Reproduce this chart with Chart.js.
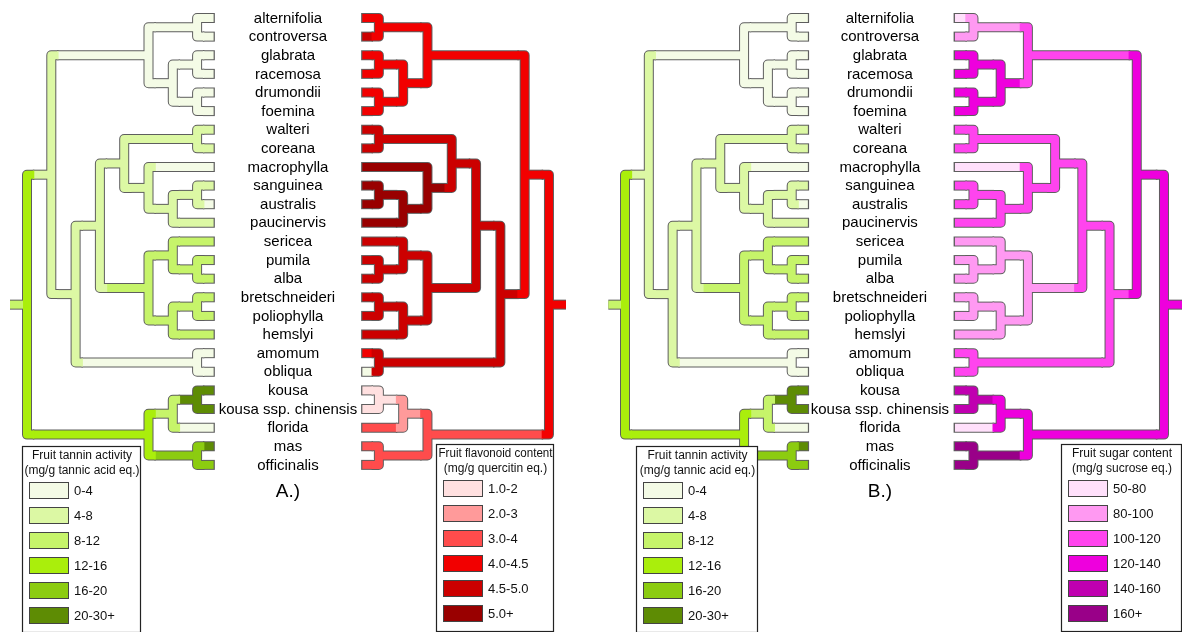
<!DOCTYPE html>
<html>
<head>
<meta charset="utf-8">
<script src="https://cdn.jsdelivr.net/npm/chart.js@4.4.0/dist/chart.umd.min.js"></script>
<style>
  body { margin: 0; background: #fff; }
  #wrap { position: relative; width: 1182px; height: 632px; }
  canvas { position: absolute; top: 0; }
</style>
</head>
<body>
<div id="wrap">
  <canvas id="panelA" width="591" height="632" style="left:0"></canvas>
  <canvas id="panelB" width="591" height="632" style="left:591px"></canvas>
</div>
<script>
// Taxa, top to bottom
const taxa = ['alternifolia', 'controversa', 'glabrata', 'racemosa', 'drumondii', 'foemina',
  'walteri', 'coreana', 'macrophylla', 'sanguinea', 'australis', 'paucinervis',
  'sericea', 'pumila', 'alba', 'bretschneideri', 'poliophylla', 'hemslyi',
  'amomum', 'obliqua', 'kousa', 'kousa ssp. chinensis', 'florida', 'mas', 'officinalis'];

// Clades: [name, depth level, child, child]
const clades = [
  ['c1', 7, 'alternifolia', 'controversa'],
  ['c2', 7, 'glabrata', 'racemosa'],
  ['c3', 7, 'drumondii', 'foemina'],
  ['g23', 6, 'c2', 'c3'],
  ['n1', 5, 'c1', 'g23'],
  ['c4', 7, 'walteri', 'coreana'],
  ['c5', 7, 'sanguinea', 'australis'],
  ['f5', 6, 'c5', 'paucinervis'],
  ['d2', 5, 'macrophylla', 'f5'],
  ['d', 4, 'c4', 'd2'],
  ['c6', 7, 'pumila', 'alba'],
  ['e1', 6, 'sericea', 'c6'],
  ['c7', 7, 'bretschneideri', 'poliophylla'],
  ['e2', 6, 'c7', 'hemslyi'],
  ['e', 5, 'e1', 'e2'],
  ['c', 3, 'd', 'e'],
  ['c8', 7, 'amomum', 'obliqua'],
  ['b', 2, 'c', 'c8'],
  ['a', 1, 'n1', 'b'],
  ['c9', 7, 'kousa', 'kousa ssp. chinensis'],
  ['k1', 6, 'c9', 'florida'],
  ['c10', 7, 'mas', 'officinalis'],
  ['k', 5, 'k1', 'c10'],
  ['root', 0, 'a', 'k']
];

// Legend classes
const tanninLabels = ['0-4', '4-8', '8-12', '12-16', '16-20', '20-30+'];
const tanninColors = ['#f4fbe6', '#dcf8a4', '#c6f46a', '#aaee0c', '#8ccc10', '#5e8c04'];
const flavLabels = ['1.0-2', '2.0-3', '3.0-4', '4.0-4.5', '4.5-5.0', '5.0+'];
const flavColors = ['#ffe0e0', '#ff9a9a', '#ff4c4c', '#f20000', '#cc0000', '#990000'];
const sugarLabels = ['50-80', '80-100', '100-120', '120-140', '140-160', '160+'];
const sugarColors = ['#ffe0fb', '#ff99f2', '#ff44ee', '#ee00dd', '#c000b0', '#990088'];
const noDataColor = '#f4fbe6';

// Character states (class index, -1 = no data); leaves follow taxa, nodes follow clades
const tanninLeaf = [0, 0, 0, 0, 0, 0, 1, 1, 0, 1, 0, 1, 2, 2, 2, 2, 2, 2, 0, 0, 5, 5, 0, 5, 4];
const tanninNode = [0, 0, 0, 0, 0, 1, 1, 1, 1, 1, 2, 2, 2, 2, 2, 1, 0, 1, 1, 5, 2, 4, 3, 3];
const tanninStub = 2;

const flavLeaf = [3, 4, 3, 3, 3, 3, 4, 4, 5, 5, 5, 5, 4, 4, 4, 4, 4, 4, 3, -1, 0, 0, 2, 2, 2];
const flavNode = [3, 3, 3, 3, 3, 4, 5, 5, 5, 4, 4, 4, 4, 4, 4, 4, 4, 4, 3, 0, 1, 2, 2, 3];
const flavStub = 3;

const sugarLeaf = [0, 1, 3, 3, 3, 3, 2, 2, 0, 2, 2, 2, 1, 1, 1, 1, 1, 1, 2, 2, 4, 4, 0, 5, 5];
const sugarNode = [1, 3, 3, 3, 2, 2, 2, 2, 2, 2, 1, 1, 1, 1, 1, 2, 2, 2, 3, 4, 3, 5, 3, 3];
const sugarStub = 3;

// geometry (levels / rows)
const LEAF = 7.68, CORNER = 0.3, STUB = 0.7;

// tree: X(level) = base + dir * k * level
function buildTree(leafState, nodeState, stubState, colors, base, dir, k) {
  const pos = {};
  taxa.forEach((t, i) => pos[t] = { lv: LEAF, y: i, s: leafState[i], leaf: true });
  clades.forEach(([name, lv, a, b], j) => {
    pos[name] = { lv: lv, y: (pos[a].y + pos[b].y) / 2, s: nodeState[j] };
  });
  const X = lv => base + dir * k * lv;
  const col = s => s < 0 ? noDataColor : colors[s];
  const segs = [];
  clades.forEach(([name, lv, a, b]) => {
    const A = pos[a], B = pos[b];
    segs.push({ pts: [[X(lv + CORNER), A.y], [X(lv), A.y], [X(lv), B.y], [X(lv + CORNER), B.y]], c: col(pos[name].s) });
    [A, B].forEach(ch => segs.push({
      pts: [[X(lv + CORNER - 0.06), ch.y], [X(ch.lv), ch.y]],
      c: col(ch.s), tip: ch.leaf ? [X(ch.lv + 0.05), ch.y] : null
    }));
  });
  const r = pos.root;
  segs.push({ pts: [[X(-STUB), r.y], [X(0), r.y]], c: col(stubState) });

  const sets = [];
  segs.forEach(sg => {
    const data = sg.pts.map(p => ({ x: p[0], y: p[1] }));
    const outline = sg.tip ? [data[0], { x: sg.tip[0], y: sg.tip[1] }] : data;
    sets.push({ data: outline, borderColor: '#5e5e5e', borderWidth: 10, order: 2 });
    sets.push({ data, borderColor: sg.c, borderWidth: 8, order: 1 });
  });
  return sets;
}

const taxonLabels = {
  id: 'taxonLabels',
  afterDatasetsDraw(chart, args, opts) {
    const { ctx, scales: { x, y } } = chart;
    ctx.save();
    ctx.fillStyle = '#000';
    ctx.textAlign = 'center';
    ctx.textBaseline = 'middle';
    ctx.font = '15px "Liberation Sans", Arial, sans-serif';
    const cx = x.getPixelForValue(opts.center);
    taxa.forEach((t, i) => ctx.fillText(t, cx, y.getPixelForValue(i) + 0.5));
    ctx.font = '19px "Liberation Sans", Arial, sans-serif';
    ctx.fillText(opts.caption, cx, 492);
    ctx.restore();
  }
};

function drawLegend(ctx, box, title1, title2, labels, colors) {
  ctx.save();
  ctx.fillStyle = '#fff';
  ctx.fillRect(box.x, box.y, box.w, box.h);
  ctx.strokeStyle = '#222';
  ctx.lineWidth = 1.2;
  ctx.strokeRect(box.x + 0.5, box.y + 0.5, box.w, box.h);
  ctx.fillStyle = '#111';
  ctx.textAlign = 'center';
  ctx.textBaseline = 'middle';
  ctx.font = '12px "Liberation Sans", Arial, sans-serif';
  ctx.fillText(title1, box.x + box.w / 2 + 1, box.y + 10, box.w - 3);
  ctx.fillText(title2, box.x + box.w / 2 + 1, box.y + 25, box.w - 3);
  ctx.textAlign = 'left';
  ctx.font = '13px "Liberation Sans", Arial, sans-serif';
  labels.forEach((lab, i) => {
    const cy = box.y + box.row0 + i * 25;
    ctx.fillStyle = colors[i];
    ctx.fillRect(box.sx, cy - 8, 39, 16);
    ctx.strokeStyle = '#444';
    ctx.lineWidth = 1;
    ctx.strokeRect(box.sx + 0.5, cy - 7.5, 39, 16);
    ctx.fillStyle = '#111';
    ctx.fillText(lab, box.sx + 45, cy + 1);
  });
  ctx.restore();
}

const legendBoxes = {
  id: 'legendBoxes',
  afterDraw(chart, args, opts) {
    opts.items.forEach(it => drawLegend(chart.ctx, it.box, it.t1, it.t2, it.labels, it.colors));
  }
};

// p: originPx (left root), rightRoot (level units), rightK (spacing factor), center (level units)
function makePanel(id, p, right, caption, legends) {
  const unit = 24.3, rowTop = 18, rowStep = 18.62;
  const datasets = buildTree(tanninLeaf, tanninNode, tanninStub, tanninColors, 0, 1, p.leftK)
    .concat(buildTree(right.leaf, right.node, right.stub, right.colors, p.rightRoot, -1, p.rightK));
  return new Chart(document.getElementById(id), {
    type: 'line',
    data: { datasets },
    options: {
      responsive: false,
      animation: false,
      layout: { padding: 0 },
      elements: {
        point: { radius: 0 },
        line: { tension: 0, borderJoinStyle: 'round', borderCapStyle: 'butt', fill: false }
      },
      plugins: {
        legend: { display: false },
        tooltip: { enabled: false },
        taxonLabels: { caption, center: p.center },
        legendBoxes: { items: legends }
      },
      scales: {
        x: { type: 'linear', display: false, min: -p.originPx / unit, max: (591 - p.originPx) / unit },
        y: { type: 'linear', display: false, reverse: true, min: -rowTop / rowStep, max: (632 - rowTop) / rowStep }
      }
    },
    plugins: [taxonLabels, legendBoxes]
  });
}

makePanel('panelA', { originPx: 27, leftK: 1, rightRoot: 21.48, rightK: 1, center: 10.74 },
  { leaf: flavLeaf, node: flavNode, stub: flavStub, colors: flavColors }, 'A.)', [
  { box: { x: 22, y: 446, w: 118, h: 186, sx: 29, row0: 44 }, t1: 'Fruit tannin activity', t2: '(mg/g tannic acid eq.)', labels: tanninLabels, colors: tanninColors },
  { box: { x: 436, y: 444, w: 117, h: 187, sx: 443, row0: 44 }, t1: 'Fruit flavonoid content', t2: '(mg/g quercitin eq.)', labels: flavLabels, colors: flavColors }
]);

makePanel('panelB', { originPx: 34, leftK: 0.98, rightRoot: 22.18, rightK: 1.12, center: 10.49 },
  { leaf: sugarLeaf, node: sugarNode, stub: sugarStub, colors: sugarColors }, 'B.)', [
  { box: { x: 45, y: 446, w: 121, h: 186, sx: 52, row0: 44 }, t1: 'Fruit tannin activity', t2: '(mg/g tannic acid eq.)', labels: tanninLabels, colors: tanninColors },
  { box: { x: 470, y: 444, w: 120, h: 187, sx: 477, row0: 44 }, t1: 'Fruit sugar content', t2: '(mg/g sucrose eq.)', labels: sugarLabels, colors: sugarColors }
]);
</script>
</body>
</html>
